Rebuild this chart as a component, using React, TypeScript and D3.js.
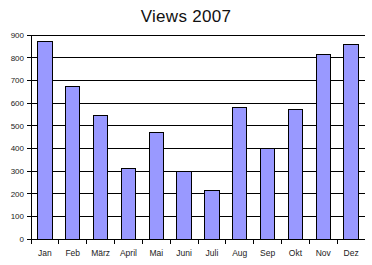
import React from "react";
import * as d3 from "d3";

const categories = ["Jan", "Feb", "März", "April", "Mai", "Juni", "Juli", "Aug", "Sep", "Okt", "Nov", "Dez"];
const views = [873, 672, 546, 312, 468, 297, 215, 578, 400, 573, 815, 856];
const yTicks = [0, 100, 200, 300, 400, 500, 600, 700, 800, 900];

export default function App() {
  const W = 372, H = 265;
  const left = 31, right = 365, top = 35, bottom = 239;
  const x = d3.scaleBand<string>().domain(categories).range([left, right]).paddingInner(0).paddingOuter(0);
  const y = d3.scaleLinear().domain([0, 900]).range([bottom, top]);
  const bw = x.bandwidth() * 0.52;
  const font = "Arial, 'Liberation Sans', sans-serif";
  return (
    <svg width={W} height={H} style={{ position: "absolute", left: 0, top: 0, background: "#fff" }}>
      <rect x={0} y={0} width={W} height={H} fill="#fff" />
      <text x={186} y={22} textAnchor="middle" fontFamily={font} fontSize={17} letterSpacing={0.3} fill="#111">Views 2007</text>
      {yTicks.map(t => (
        <g key={t}>
          {t > 0 && <line x1={left} x2={right} y1={y(t)} y2={y(t)} stroke="#000" strokeWidth={1} shapeRendering="crispEdges" />}
          <line x1={left - 4} x2={left} y1={y(t)} y2={y(t)} stroke="#000" shapeRendering="crispEdges" />
          <text x={left - 7} y={y(t) + 3} textAnchor="end" fontFamily={font} fontSize={8} fill="#222">{t}</text>
        </g>
      ))}
      {categories.map((c, i) => (
        <rect key={c} x={(x(c) as number) + (x.bandwidth() - bw) / 2} y={y(views[i])} width={bw} height={bottom - y(views[i])}
          fill="#9999ff" stroke="#000" strokeWidth={1} shapeRendering="crispEdges" />
      ))}
      <line x1={left} x2={left} y1={top} y2={bottom + 5} stroke="#000" shapeRendering="crispEdges" />
      <line x1={left} x2={right} y1={bottom} y2={bottom} stroke="#000" shapeRendering="crispEdges" />
      {categories.map((c, i) => (
        <g key={"t" + c}>
          {i > 0 && <line x1={x(c) as number} x2={x(c) as number} y1={bottom} y2={bottom + 5} stroke="#000" shapeRendering="crispEdges" />}
          <text x={(x(c) as number) + x.bandwidth() / 2} y={256} textAnchor="middle" fontFamily={font} fontSize={8.5} fill="#222">{c}</text>
        </g>
      ))}
    </svg>
  );
}
